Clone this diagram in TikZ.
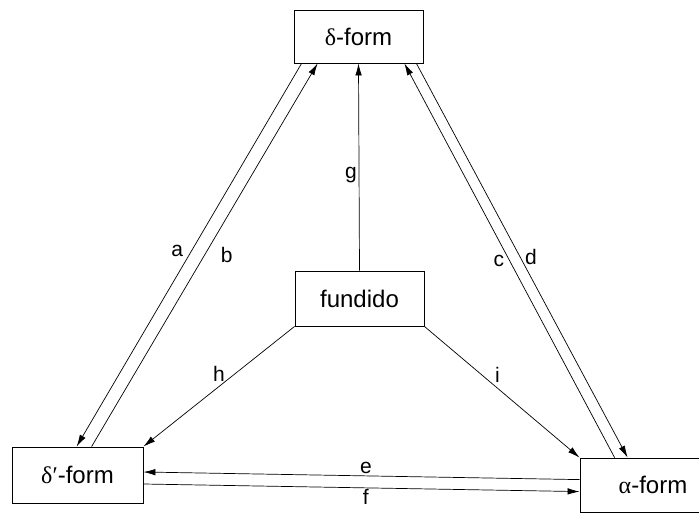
\documentclass[tikz,border=0pt]{standalone}
\usepackage{fontspec}
\setmainfont{Liberation Sans}
\newfontfamily\grk{Liberation Serif}
\usetikzlibrary{arrows.meta,calc}

\begin{document}
\begin{tikzpicture}[x=1pt, y=-1pt, >={Latex[length=12pt,width=6.5pt]},
  formbox/.style={draw, line width=0.8pt, inner sep=0pt, font=\fontsize{24}{28}\selectfont},
  conn/.style={->, line width=0.7pt},
  lbl/.style={font=\fontsize{21}{24}\selectfont, inner sep=1pt}]
  % page frame
  \useasboundingbox (0,0) rectangle (699,513);

  % Boxes
  \node[formbox, minimum width=129pt, minimum height=53pt] (delta) at (358.5,36.5) {{\grk δ}-form};
  \node[formbox, minimum width=131pt, minimum height=56pt] (dprime) at (77.5,475) {{\grk δ′}-form};
  \node[formbox, minimum width=146pt, minimum height=54pt] (alpha) at (653,485) {{\grk α}-form};
  \node[formbox, minimum width=129pt, minimum height=55pt] (melt) at (359.5,298.5) {fundido};

  % delta <-> delta'
  \draw[conn] ([xshift=8pt]delta.south west) -- ([xshift=65pt]dprime.north west)
    node[lbl, pos=0.49, left=7pt] (la) {a};
  \draw[conn] ([xshift=80pt]dprime.north west) -- ([xshift=24pt]delta.south west)
    node[lbl, pos=0.5, right=15pt] (lb) {b};

  % delta <-> alpha
  \draw[conn] ([xshift=35pt]alpha.north west) -- ([xshift=-19pt]delta.south east)
    node[lbl, pos=0.5, left=4pt] (lc) {c};
  \draw[conn] ([xshift=-7pt]delta.south east) -- ([xshift=48pt]alpha.north west)
    node[lbl, pos=0.49, right=4pt] (ld) {d};

  % from the melt
  \draw[conn] (melt.north) -- (delta.south)
    node[lbl, pos=0.46, left=1pt] (lg) {g};
  \draw[conn] (melt.south west) -- (dprime.north east)
    node[lbl, pos=0.5, above=4pt] (lh) {h};
  \draw[conn] (melt.south east) -- (alpha.north west)
    node[lbl, pos=0.47, above=4pt] (li) {i};

  % delta' <-> alpha
  \draw[conn] ([yshift=-22pt]alpha.north west) -- ([yshift=3pt]dprime.east)
    node[lbl, pos=0.49, above=1pt] (le) {e};
  \draw[conn] ([yshift=-9pt]dprime.east) -- ([yshift=-34pt]alpha.north west)
    node[lbl, pos=0.51, below=0pt] (lf) {f};
\end{tikzpicture}
\end{document}
